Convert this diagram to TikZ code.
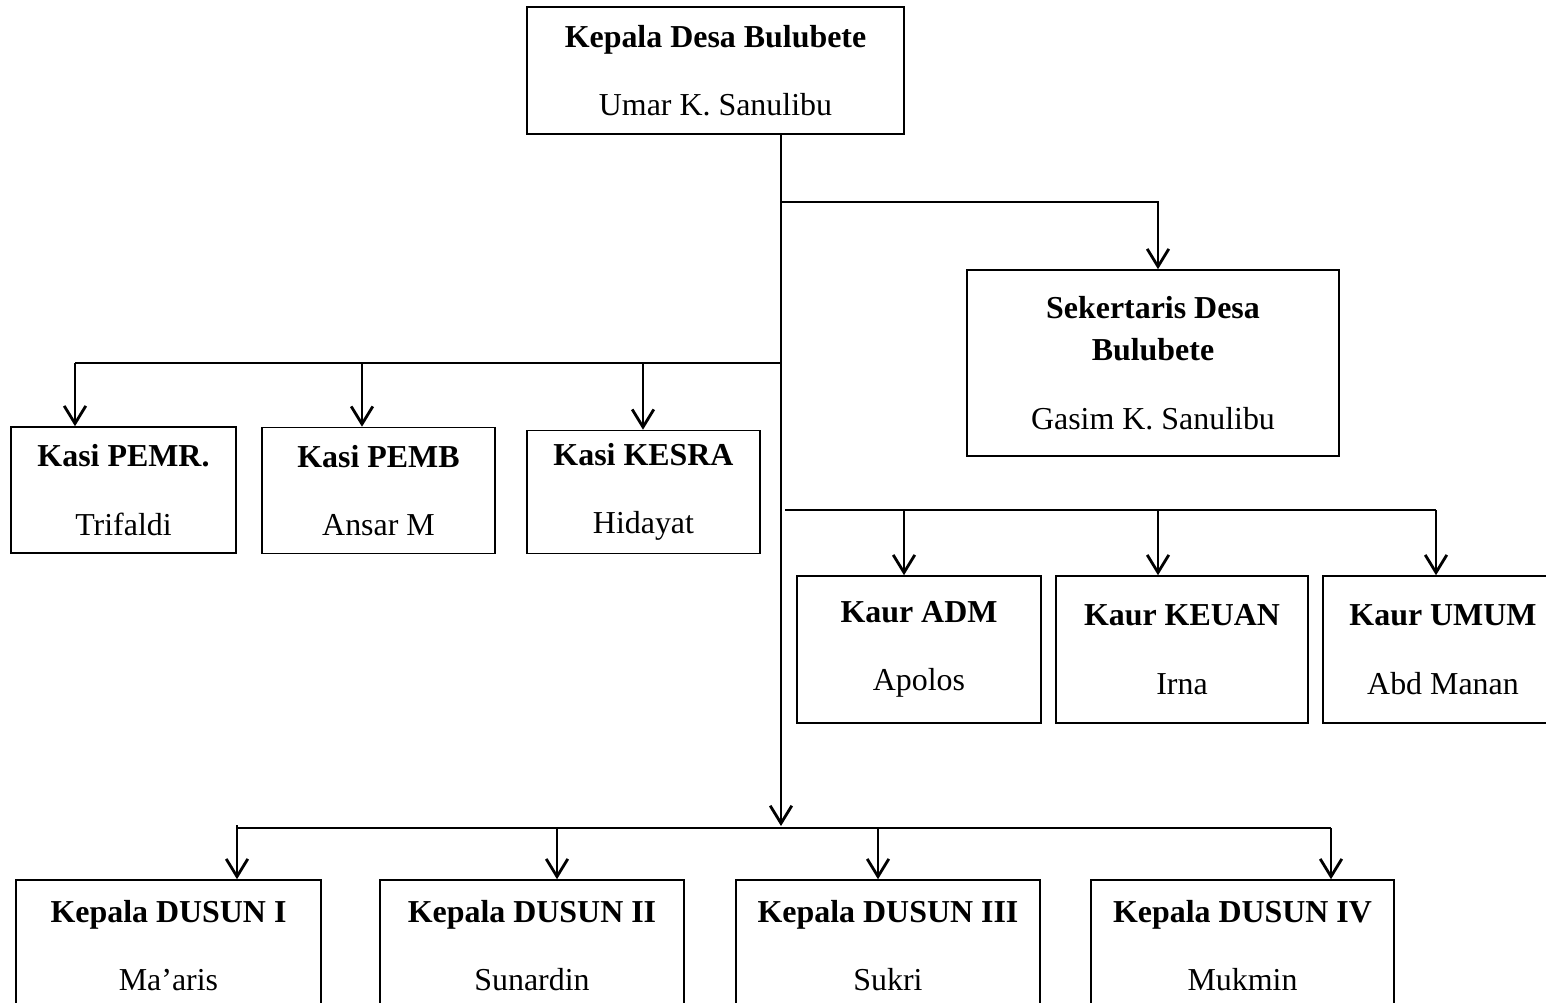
\documentclass[tikz,border=0pt]{standalone}
\usepackage{fontspec}
\setmainfont{Liberation Serif}
\usetikzlibrary{arrows.meta}

\tikzset{
  kotak/.style={draw,line width=1.1pt,inner sep=2pt,align=center,
    font=\fontsize{22.7}{29.8}\selectfont}
}

\begin{document}
\begin{tikzpicture}[x=0.025cm,y=-0.025cm,line width=2pt,>={Straight Barb[length=4.4mm,width=5.4mm]}]
  \useasboundingbox (0,0) rectangle (1546,1003);
  \clip (0,0) rectangle (1546,1003);
  % kepala desa
  \node[kotak,minimum width=9.425cm,minimum height=3.175cm] (kades) at (715.5,70.5)
    {\textbf{Kepala Desa Bulubete}\\[19pt]Umar K. Sanulibu};
  % sekretaris
  \node[kotak,minimum width=9.3cm,minimum height=4.65cm] (sekdes) at (1153,363)
    {\textbf{Sekertaris Desa}\\\textbf{Bulubete}\\[19pt]Gasim K. Sanulibu};
  % kasi
  \node[kotak,minimum width=5.625cm,minimum height=3.15cm] (pemr) at (123.5,490)
    {\textbf{Kasi PEMR.}\\[19pt]Trifaldi};
  \node[kotak,minimum width=5.825cm,minimum height=3.15cm] (pemb) at (378.5,490.5)
    {\textbf{Kasi PEMB}\\[19pt]Ansar M};
  \node[kotak,minimum width=5.825cm,minimum height=3.075cm] (kesra) at (643.5,492)
    {\textbf{Kasi KESRA}\\[19pt]Hidayat};
  % kaur
  \node[kotak,minimum width=6.1cm,minimum height=3.675cm] (adm) at (919,649.5)
    {\textbf{Kaur ADM}\\[19pt]Apolos};
  \node[kotak,minimum width=6.3cm,minimum height=3.675cm] (keuan) at (1182,649.5)
    {\textbf{Kaur KEUAN}\\[19pt]Irna};
  \node[kotak,minimum width=6.0cm,minimum height=3.675cm] (umum) at (1443,649.5)
    {\textbf{Kaur UMUM}\\[19pt]Abd Manan};
  % kepala dusun
  \node[kotak,minimum width=7.625cm,minimum height=3.275cm] (dusun1) at (168.5,945.5)
    {\textbf{Kepala DUSUN I}\\[19pt]Ma’aris};
  \node[kotak,minimum width=7.6cm,minimum height=3.275cm] (dusun2) at (532,945.5)
    {\textbf{Kepala DUSUN II}\\[19pt]Sunardin};
  \node[kotak,minimum width=7.6cm,minimum height=3.275cm] (dusun3) at (888,945.5)
    {\textbf{Kepala DUSUN III}\\[19pt]Sukri};
  \node[kotak,minimum width=7.575cm,minimum height=3.275cm] (dusun4) at (1242.5,945.5)
    {\textbf{Kepala DUSUN IV}\\[19pt]Mukmin};

  % titik cabang
  \coordinate (c1) at (781,202);
  \coordinate (c2) at (781,363);
  \coordinate (c3) at (781,510);
  \coordinate (c4) at (781,826);
  \coordinate (s1) at (1158,202);
  \coordinate (k1) at (75,363);
  \coordinate (k2) at (362,363);
  \coordinate (k3) at (643,363);
  \coordinate (u1) at (904,510);
  \coordinate (u2) at (1158,510);
  \coordinate (u3) at (1436,510);
  \coordinate (d1) at (237,828);
  \coordinate (d2) at (557,828);
  \coordinate (d3) at (878,828);
  \coordinate (d4) at (1331,828);

  % garis utama
  \draw[->] (kades.south -| c1) -- (c4);
  \draw[->] (c1) -- (s1) -- (s1 |- sekdes.north);
  \draw (c2) -- (k1);
  \draw[->] (k1) -- (k1 |- pemr.north);
  \draw[->] (k2) -- (k2 |- pemb.north);
  \draw[->] (k3) -- (k3 |- kesra.north);
  \draw ([xshift=0.1cm]c3) -- (u3);
  \draw[->] (u1) -- (u1 |- adm.north);
  \draw[->] (u2) -- (u2 |- keuan.north);
  \draw[->] (u3) -- (u3 |- umum.north);
  \draw (d1) -- (d4);
  \draw[->] ([yshift=0.075cm]d1) -- (d1 |- dusun1.north);
  \draw[->] (d2) -- (d2 |- dusun2.north);
  \draw[->] (d3) -- (d3 |- dusun3.north);
  \draw[->] (d4) -- (d4 |- dusun4.north);
\end{tikzpicture}
\end{document}
